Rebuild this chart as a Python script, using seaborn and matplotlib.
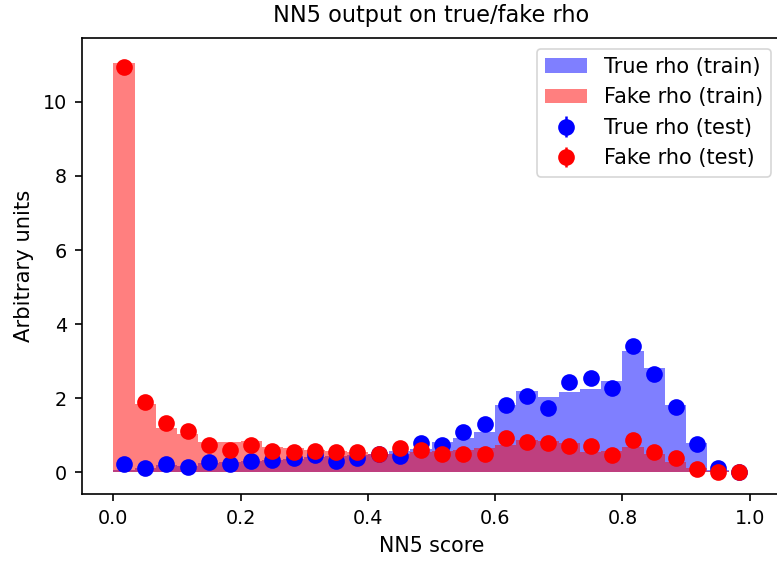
import numpy as np
import pandas as pd
import matplotlib
matplotlib.use("Agg")
import matplotlib.pyplot as plt
import seaborn as sns

# 30 equal-width bins on the NN5 score range [0, 1]
n_bins = 30
score_range = (0.0, 1.0)
bin_edges = np.linspace(score_range[0], score_range[1], n_bins + 1)
bin_centers = 0.5 * (bin_edges[:-1] + bin_edges[1:])

# training-sample histograms (normalised, arbitrary units)
true_train = [0.05, 0.12, 0.18, 0.17, 0.24, 0.26, 0.30, 0.33, 0.36, 0.40,
              0.43, 0.47, 0.50, 0.58, 0.63, 0.80, 0.92, 1.09, 1.81, 2.19,
              2.04, 2.16, 2.24, 2.45, 3.27, 2.82, 1.81, 0.78, 0.06, 0.01]
fake_train = [11.05, 1.83, 1.20, 1.03, 0.82, 0.80, 0.84, 0.68, 0.64, 0.61,
              0.58, 0.53, 0.50, 0.50, 0.55, 0.57, 0.59, 0.64, 0.73, 0.86,
              0.84, 0.78, 0.55, 0.58, 0.67, 0.49, 0.26, 0.10, 0.03, 0.01]

# test-sample points
true_test = [0.21, 0.10, 0.21, 0.14, 0.28, 0.22, 0.30, 0.32, 0.37, 0.45,
             0.31, 0.39, 0.49, 0.43, 0.78, 0.73, 1.09, 1.30, 1.81, 2.05,
             1.74, 2.44, 2.55, 2.28, 3.41, 2.65, 1.77, 0.76, 0.11, 0.01]
fake_test = [10.95, 1.90, 1.32, 1.12, 0.73, 0.59, 0.73, 0.57, 0.53, 0.57,
             0.53, 0.55, 0.50, 0.64, 0.59, 0.49, 0.50, 0.49, 0.91, 0.82,
             0.79, 0.70, 0.71, 0.46, 0.86, 0.55, 0.39, 0.09, 0.00, 0.00]
true_test_err = [0.0] * n_bins
fake_test_err = [0.0] * n_bins

train_df = pd.DataFrame({"score": bin_centers,
                         "true_w": true_train,
                         "fake_w": fake_train})

plt.rcParams["font.family"] = ["DejaVu Sans"]
plt.rcParams["font.size"] = 12
plt.rcParams["axes.linewidth"] = 1.0

dpi = 120
fig = plt.figure(figsize=(777 / dpi, 563 / dpi), dpi=dpi)
ax = fig.add_axes([0.1049, 0.122, 0.901, 0.810])

sns.histplot(data=train_df, x="score", weights="true_w", bins=n_bins,
             binrange=score_range, element="step", fill=True, color="blue",
             alpha=0.5, linewidth=0, label="True rho (train)", ax=ax)
sns.histplot(data=train_df, x="score", weights="fake_w", bins=n_bins,
             binrange=score_range, element="step", fill=True, color="red",
             alpha=0.5, linewidth=0, label="Fake rho (train)", ax=ax)

ax.errorbar(bin_centers, true_test, yerr=true_test_err, fmt="o", color="blue",
            markersize=9, label="True rho (test)")
ax.errorbar(bin_centers, fake_test, yerr=fake_test_err, fmt="o", color="red",
            markersize=9, label="Fake rho (test)")

ax.set_xlim(-0.05, 1.05)
ax.set_ylim(-0.6, 11.72)
ax.set_xticks([0.0, 0.2, 0.4, 0.6, 0.8, 1.0])
ax.set_yticks([0, 2, 4, 6, 8, 10])
ax.tick_params(labelsize=11.5, length=4.4, width=1.0, pad=4.4)

ax.set_title("NN5 output on true/fake rho", fontsize=13.5, pad=10)
ax.set_xlabel("NN5 score", fontsize=12.3, labelpad=5)
ax.set_ylabel("Arbitrary units", fontsize=12.7, labelpad=5)
ax.legend(loc="upper right", fontsize=12.5)

fig.savefig("out.png", dpi=dpi)
